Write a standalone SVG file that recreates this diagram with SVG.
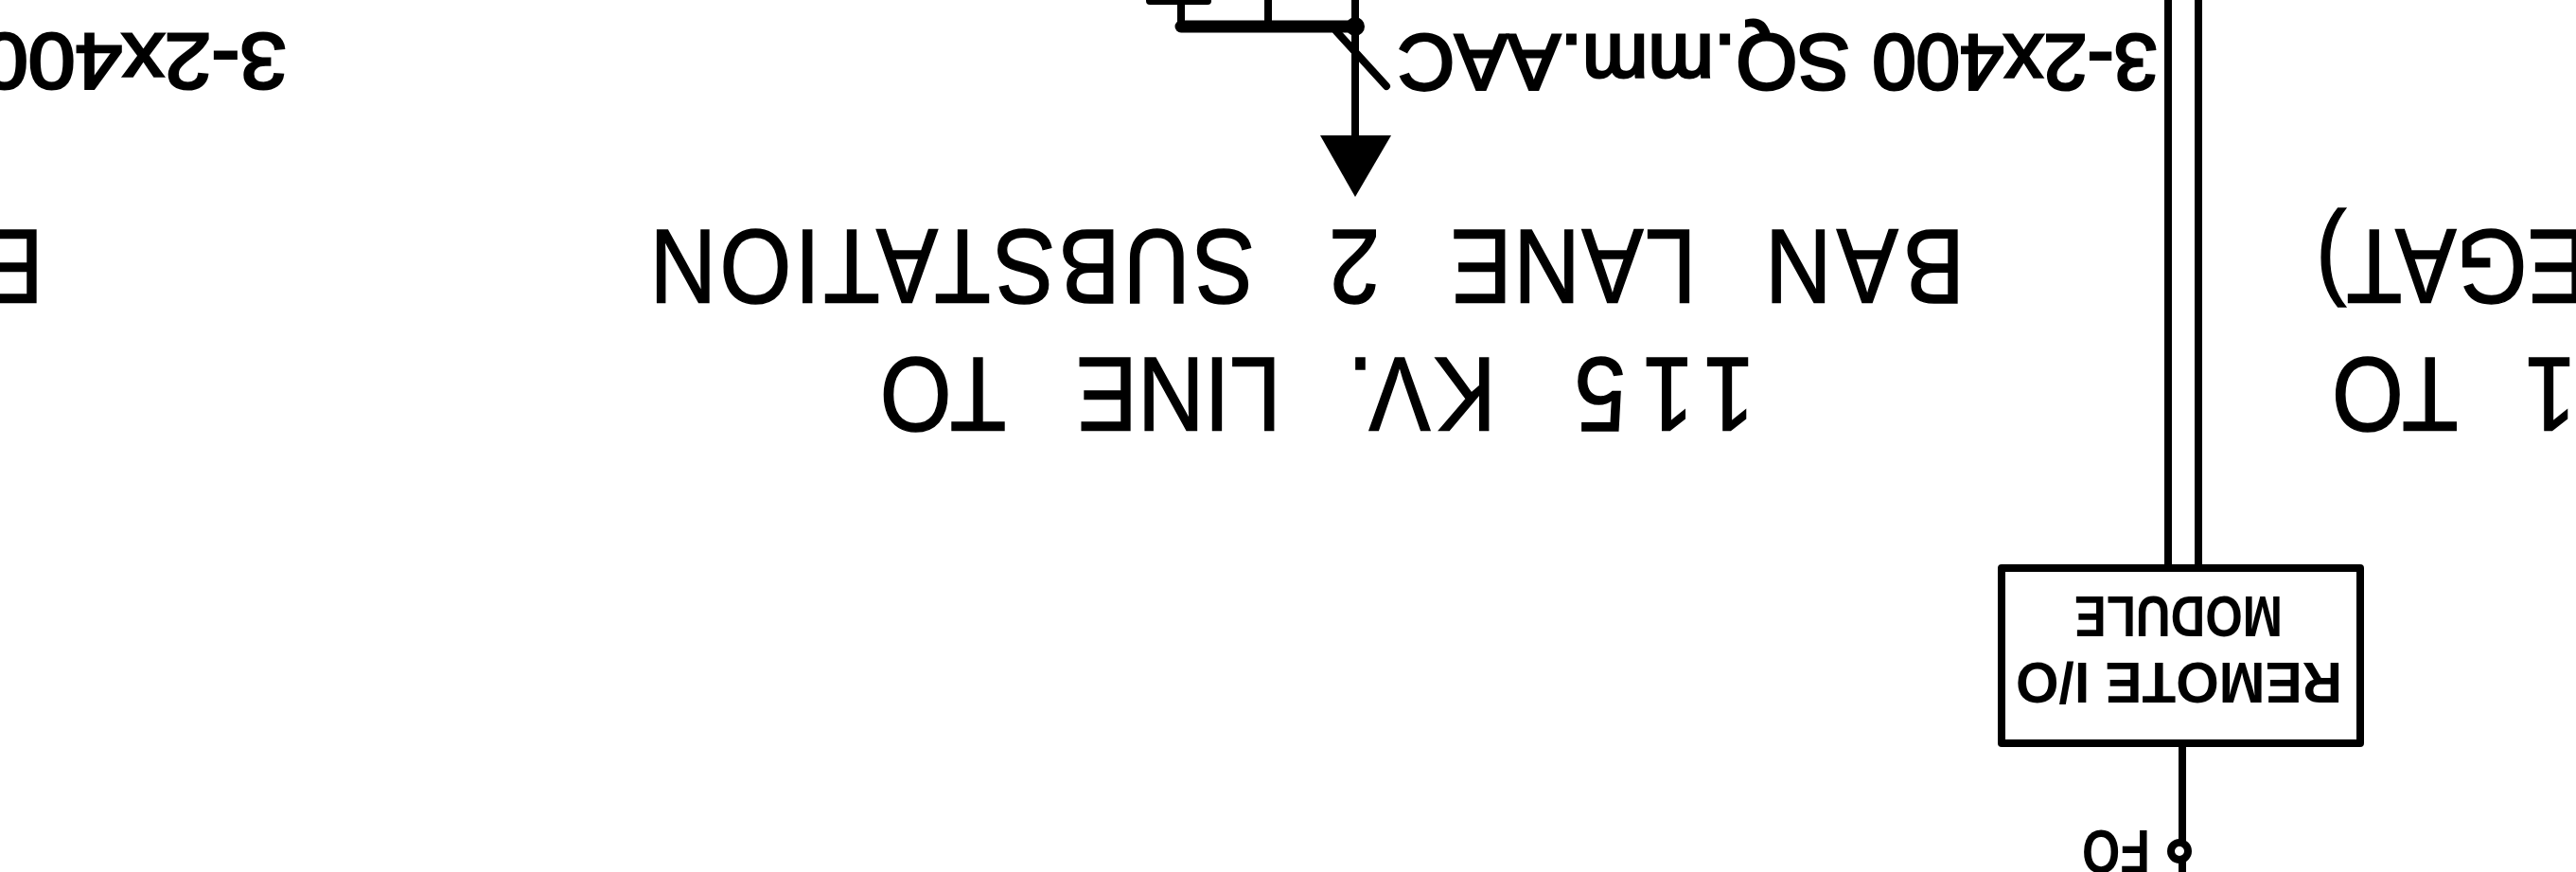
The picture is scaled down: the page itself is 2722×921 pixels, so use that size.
<svg xmlns="http://www.w3.org/2000/svg" width="2722" height="921" viewBox="0 0 2722 921">
<style>
.l{fill:none;stroke:#000;stroke-width:8;stroke-linecap:round;stroke-linejoin:round}
.t{font-family:"Liberation Sans",Arial,sans-serif;fill:#000}
.big{font-size:112px;stroke:#000;stroke-width:1.5px}
.mid{font-size:84px;stroke:#000;stroke-width:3px}
.sm{font-size:62px;font-weight:700}
.fo{font-size:64px;font-weight:700}
</style>
<rect width="2722" height="921" fill="#fff"/>
<g id="connectors">
<path class="l" d="M1215 1H1276M1248 0V28M1340 0V28M1432 0V143"/>
<path class="l" style="stroke-width:13" d="M1248 28H1432"/>
<path class="l" d="M1412 33L1465 91"/>
<path class="l" d="M2291 0V600M2323 0V600M2306 785V921"/>
</g>
<g id="junction-top"><circle cx="1432" cy="28" r="10" fill="#000"/></g>
<g id="arrow"><polygon points="1395,143 1470,143 1432,208" fill="#000"/></g>
<g id="junction-fo"><circle cx="2303" cy="899" r="9" fill="#fff" stroke="#000" stroke-width="8"/></g>
<g id="remote-io">
<rect x="2115" y="600" width="379" height="185" fill="#fff" stroke="#000" stroke-width="8" stroke-linejoin="round"/>
<text class="t sm" transform="translate(2475,700) rotate(180)" textLength="345" lengthAdjust="spacingAndGlyphs">REMOTE I/O</text>
<text class="t sm" transform="translate(2412,630) rotate(180)" textLength="220" lengthAdjust="spacingAndGlyphs">MODULE</text>
</g>
<g id="labels">
<text class="t mid" transform="translate(2280,37) rotate(180)" textLength="803" lengthAdjust="spacingAndGlyphs">3-2x400 SQ.mm.AAC</text>
<text class="t mid" transform="translate(303,36) rotate(180)" textLength="323" lengthAdjust="spacingAndGlyphs">3-2x400</text>
<text class="t big" transform="translate(2076,243) rotate(180) scale(.87,1)"><tspan x="0" letter-spacing="6">BAN</tspan> <tspan x="326" letter-spacing="2">LANE</tspan> <tspan x="710">2</tspan> <tspan x="862" letter-spacing="4">SUBSTATION</tspan></text>
<text class="t big" transform="translate(1854,378) rotate(180) scale(.87,1)"><tspan x="0" letter-spacing="20">115</tspan> <tspan x="314" letter-spacing="5">KV.</tspan> <tspan x="575">LINE</tspan> <tspan x="909">TO</tspan></text>
<text class="t big" transform="translate(46,243) rotate(180) scale(.87,1)">E</text>
<text class="t big" transform="translate(2735,243) rotate(180)" textLength="288" lengthAdjust="spacingAndGlyphs">EGAT)</text>
<text class="t big" transform="translate(2722,378) rotate(180) scale(.87,1)"><tspan x="0">1</tspan> <tspan x="143">TO</tspan></text>
<text class="t fo" transform="translate(2272,877) rotate(180)" textLength="72" lengthAdjust="spacingAndGlyphs">FO</text>
</g>
</svg>
